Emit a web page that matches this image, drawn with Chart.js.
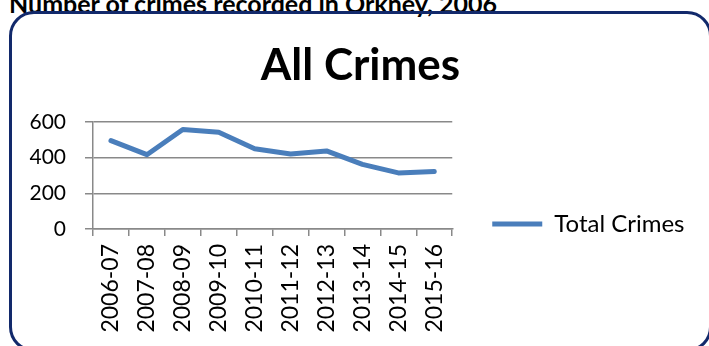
<!DOCTYPE html>
<html>
<head>
<meta charset="utf-8">
<script src="https://cdn.jsdelivr.net/npm/chart.js@4.4.1/dist/chart.umd.min.js"></script>
<style>
  html, body { margin: 0; padding: 0; background: #fff; width: 709px; height: 346px; overflow: hidden; }
  #heading {
    position: absolute; left: 9px; top: -9px;
    font: bold 25px/25px Lato, sans-serif; color: #000; white-space: nowrap;
  }
  #frame {
    position: absolute; left: 9px; top: 11px; width: 703px; height: 341px;
    box-sizing: border-box; border: 3px solid #12296b; border-radius: 25px;
  }
  #crimeChart { position: absolute; left: 0; top: 0; }
</style>
</head>
<body>
<div id="heading">Number of crimes recorded in Orkney, 2006</div>
<div id="frame"></div>
<canvas id="crimeChart" width="709" height="346"></canvas>
<script>
// Recorded crimes per financial year
const years = ['2006-07', '2007-08', '2008-09', '2009-10', '2010-11',
               '2011-12', '2012-13', '2013-14', '2014-15', '2015-16'];
const totalCrimes = [495, 416, 557, 542, 449, 420, 437, 362, 314, 322];
const yTicks = [0, 200, 400, 600];

const GRID = '#898989';
const FONT = 'Lato';

// the big right padding keeps the plot narrow; the title is re-centred on the
// whole card and the legend box is widened to the edge and dropped level
// with the axis labels
const boxPlacement = {
  id: 'boxPlacement',
  afterLayout(chart) {
    const t = chart.titleBlock;
    if (t) { t.left = 12; t.right = chart.width; }
    const lg = chart.legend;
    lg.right = chart.width;
    lg.width = lg.right - lg.left;
    lg.top += 51;
    lg.bottom += 51;
  }
};

new Chart(document.getElementById('crimeChart'), {
  type: 'line',
  data: {
    labels: years,
    datasets: [{
      label: 'Total Crimes',
      data: totalCrimes,
      borderColor: '#4a7ebb',
      backgroundColor: '#4a7ebb',
      borderWidth: 5,
      borderCapStyle: 'round',
      borderJoinStyle: 'round',
      pointRadius: 0,
      pointHoverRadius: 0,
      tension: 0,
      fill: false
    }]
  },
  options: {
    responsive: false,
    animation: false,
    layout: { padding: { left: 0, right: 106, top: 0, bottom: 0 } },
    plugins: {
      title: {
        display: true,
        text: 'All Crimes',
        color: '#000',
        font: { family: FONT, size: 44, weight: 'bold' },
        padding: { top: 39, bottom: 30 }
      },
      legend: {
        position: 'right',
        align: 'center',
        labels: {
          usePointStyle: true,
          pointStyle: 'line',
          pointStyleWidth: 50,
          padding: 40,
          textAlign: 'left',
          color: '#000',
          font: { family: FONT, size: 24 }
        }
      },
      tooltip: { enabled: false }
    },
    scales: {
      x: {
        offset: true,
        grid: { offset: true, drawOnChartArea: false, tickLength: 7, color: GRID, lineWidth: 1.5 },
        border: { color: GRID, width: 1.5 },
        ticks: {
          autoSkip: false, minRotation: 90, maxRotation: 90, padding: 8,
          color: '#000', font: { family: FONT, size: 23 }
        },
        afterFit(s) { s.height = 117; }
      },
      y: {
        min: yTicks[0],
        max: yTicks[yTicks.length - 1],
        grid: { tickLength: 8, color: GRID, lineWidth: 1.5 },
        border: { color: GRID, width: 1.5 },
        ticks: {
          stepSize: yTicks[1] - yTicks[0], padding: 19,
          color: '#000', font: { family: FONT, size: 21 }
        },
        afterFit(s) { s.width = 93; }
      }
    }
  },
  plugins: [boxPlacement]
});
</script>
</body>
</html>
